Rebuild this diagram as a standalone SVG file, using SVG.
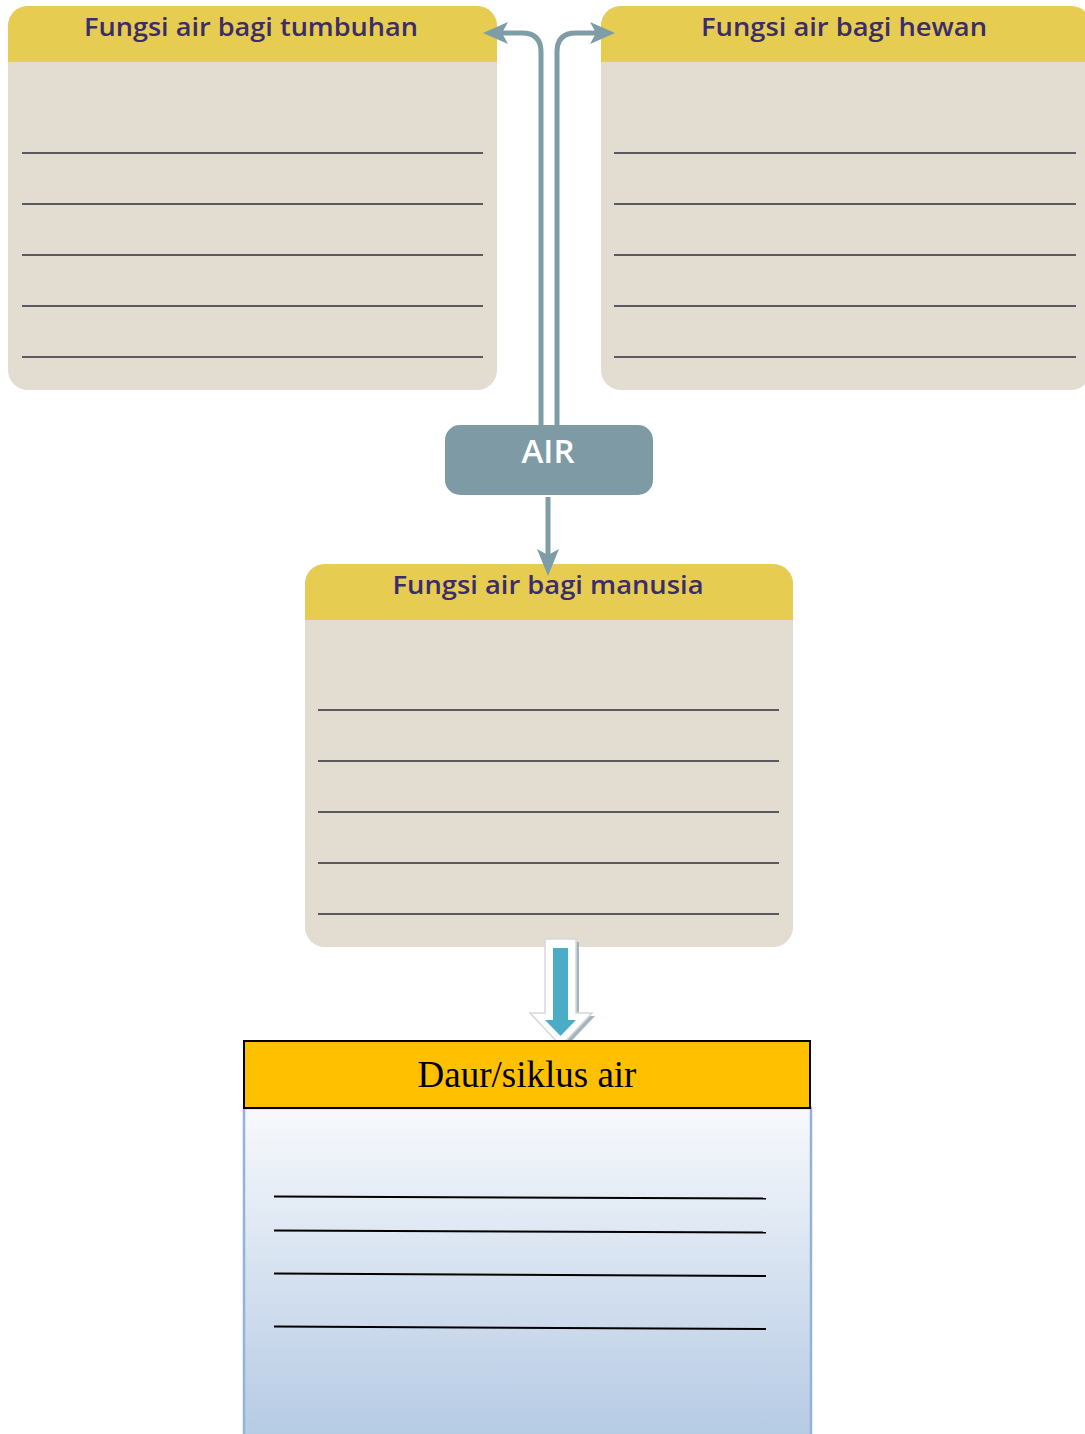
<svg xmlns="http://www.w3.org/2000/svg" width="1085" height="1434" viewBox="0 0 1085 1434">
<defs>
<style>
.body{fill:#E3DDD1;}
.head{fill:#E6CC50;}
.title{font-family:"Open Sans","Noto Sans",sans-serif;font-weight:600;font-size:26px;fill:#3B2D6B;text-anchor:middle;}
.rule{stroke:#2E2E3A;stroke-width:1.3;}
.conn{fill:none;stroke:#7E9DA6;stroke-width:5;}
.head-arrow{fill:#7E9DA6;}
.drule{stroke:#000;stroke-width:2;}
</style>
<linearGradient id="bg" x1="0" y1="0" x2="0" y2="1">
<stop offset="0" stop-color="#F7F9FC"/>
<stop offset="1" stop-color="#B5CAE4"/>
</linearGradient>
</defs>
<rect width="1085" height="1434" fill="#FFFFFF"/>

<g id="node-tumbuhan">
<rect class="body" x="8" y="6" width="489" height="384" rx="20"/>
<path class="head" d="M8 62 V26 A20 20 0 0 1 28 6 H477 A20 20 0 0 1 497 26 V62 Z"/>
<text class="title" x="251" y="36" textLength="334" lengthAdjust="spacingAndGlyphs">Fungsi air bagi tumbuhan</text>
<line class="rule" x1="22" y1="153" x2="483" y2="153"/>
<line class="rule" x1="22" y1="204" x2="483" y2="204"/>
<line class="rule" x1="22" y1="255" x2="483" y2="255"/>
<line class="rule" x1="22" y1="306" x2="483" y2="306"/>
<line class="rule" x1="22" y1="357" x2="483" y2="357"/>
</g>

<g id="node-hewan">
<rect class="body" x="601" y="6" width="490" height="384" rx="20"/>
<path class="head" d="M601 62 V26 A20 20 0 0 1 621 6 H1071 A20 20 0 0 1 1091 26 V62 Z"/>
<text class="title" x="844" y="36" textLength="286" lengthAdjust="spacingAndGlyphs">Fungsi air bagi hewan</text>
<line class="rule" x1="614" y1="153" x2="1076" y2="153"/>
<line class="rule" x1="614" y1="204" x2="1076" y2="204"/>
<line class="rule" x1="614" y1="255" x2="1076" y2="255"/>
<line class="rule" x1="614" y1="306" x2="1076" y2="306"/>
<line class="rule" x1="614" y1="357" x2="1076" y2="357"/>
</g>

<g id="node-manusia">
<rect class="body" x="305" y="564" width="488" height="383" rx="20"/>
<path class="head" d="M305 620 V584 A20 20 0 0 1 325 564 H773 A20 20 0 0 1 793 584 V620 Z"/>
<text class="title" x="548" y="594" textLength="311" lengthAdjust="spacingAndGlyphs">Fungsi air bagi manusia</text>
<line class="rule" x1="318" y1="710" x2="779" y2="710"/>
<line class="rule" x1="318" y1="761" x2="779" y2="761"/>
<line class="rule" x1="318" y1="812" x2="779" y2="812"/>
<line class="rule" x1="318" y1="863" x2="779" y2="863"/>
<line class="rule" x1="318" y1="914" x2="779" y2="914"/>
</g>

<g id="connectors">
<path class="conn" d="M541 428 V52 Q541 33 522 33 H500"/>
<polygon class="head-arrow" points="483,33 508,22 502,33 508,44"/>
<path class="conn" d="M557 428 V52 Q557 33 576 33 H598"/>
<polygon class="head-arrow" points="615,33 590,22 596,33 590,44"/>
<path class="conn" d="M548 497 V560"/>
<polygon class="head-arrow" points="548,576 537,549 548,555 559,549"/>
</g>

<g id="node-air">
<rect x="445" y="425" width="208" height="70" rx="15" fill="#7E9BA5"/>
<text x="548" y="463" font-family="'Open Sans','Noto Sans',sans-serif" font-weight="600" font-size="33" fill="#FFFFFF" text-anchor="middle">AIR</text>
</g>

<g id="block-arrow">
<path d="M548 942 H579 V1016 H595 L564 1049 L533 1016 H548 Z" fill="#8FA5AE" opacity="0.8"/>
<path d="M545 939 H576 V1013 H592 L561 1046 L530 1013 H545 Z" fill="#FFFFFF" stroke="#D8D8D8" stroke-width="1.5"/>
<path d="M553 948 H568 V1020 H576 L560.5 1036 L545 1020 H553 Z" fill="#4BACC6"/>
</g>

<g id="node-daur">
<rect x="244" y="1108" width="567" height="330" fill="url(#bg)" stroke="#95B3D7" stroke-width="2.5"/>
<rect x="244" y="1041" width="566" height="67" fill="#FFC000" stroke="#000000" stroke-width="2"/>
<text x="527" y="1087" font-family="'Liberation Serif','Times New Roman',serif" font-size="37" fill="#000000" text-anchor="middle">Daur/siklus air</text>
<line class="drule" x1="274" y1="1196.5" x2="766" y2="1198.5"/>
<line class="drule" x1="274" y1="1230.5" x2="766" y2="1232.5"/>
<line class="drule" x1="274" y1="1273.5" x2="766" y2="1276"/>
<line class="drule" x1="274" y1="1326.5" x2="766" y2="1329"/>
</g>
</svg>
